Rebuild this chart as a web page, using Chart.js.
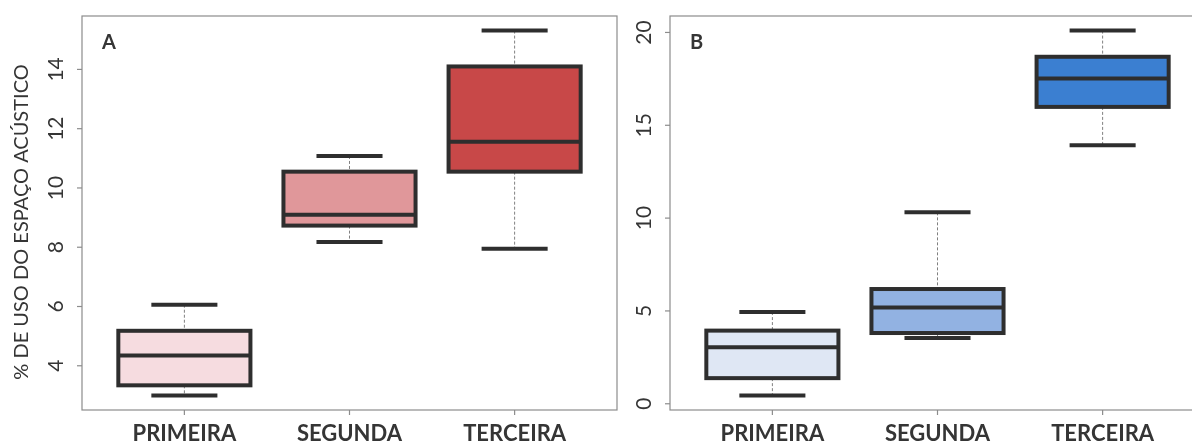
<!DOCTYPE html>
<html>
<head>
<meta charset="utf-8">
<script src="https://cdn.jsdelivr.net/npm/chart.js@4.4.1/dist/chart.umd.min.js"></script>
<style>
  html, body { margin: 0; padding: 0; background: #fff; }
  #pagina { position: relative; width: 1192px; height: 443px; overflow: hidden; background: #fff; }
  .panel { position: absolute; top: 0; height: 443px; }
  .panel canvas { display: block; }
  #wrapA { left: 0; width: 620px; }
  #wrapB { left: 620px; width: 600px; }
</style>
</head>
<body>
<div id="pagina">
  <div class="panel" id="wrapA"><canvas id="chartA" width="620" height="443" style="width:620px;height:443px"></canvas></div>
  <div class="panel" id="wrapB"><canvas id="chartB" width="600" height="443" style="width:600px;height:443px"></canvas></div>
</div>
<script>
// categorias (fases)
const categorias = ['PRIMEIRA', 'SEGUNDA', 'TERCEIRA'];

// Painel A — % de uso do espaço acústico
const minA = [3.0, 8.18, 7.95];
const q1A = [3.34, 8.73, 10.55];
const medA = [4.35, 9.1, 11.56];
const q3A = [5.18, 10.55, 14.1];
const maxA = [6.06, 11.08, 15.31];
const ticksA = [4, 6, 8, 10, 12, 14];
const coresA = ['#f6dce0', '#e0979a', '#c84848'];

// Painel B
const minB = [0.45, 3.54, 13.92];
const q1B = [1.38, 3.81, 15.99];
const medB = [3.04, 5.19, 17.52];
const q3B = [3.94, 6.18, 18.69];
const maxB = [4.94, 10.31, 20.1];
const ticksB = [0, 5, 10, 15, 20];
const coresB = ['#dfe7f4', '#92b2e2', '#3b7fd1'];

const tituloY = '% DE USO DO ESPAÇO ACÚSTICO';
const FONTE = "Lato, 'Open Sans', sans-serif";
const TEXTO = '#353535';

function linha(ctx, x1, y1, x2, y2) {
  ctx.beginPath();
  ctx.moveTo(x1, y1);
  ctx.lineTo(x2, y2);
  ctx.stroke();
}

// caixas, medianas, bigodes (estilo R boxplot)
const boxPlot = {
  id: 'boxPlot',
  afterDatasetsDraw(chart, args, opts) {
    const { ctx } = chart;
    const y = chart.scales.y;
    const meta = chart.getDatasetMeta(0);
    ctx.save();
    meta.data.forEach((bar, i) => {
      const cx = bar.x;
      const hw = bar.width / 2;
      const pMin = y.getPixelForValue(opts.min[i]);
      const pQ1 = y.getPixelForValue(opts.q1[i]);
      const pMed = y.getPixelForValue(opts.med[i]);
      const pQ3 = y.getPixelForValue(opts.q3[i]);
      const pMax = y.getPixelForValue(opts.max[i]);

      // bigodes tracejados
      ctx.strokeStyle = '#808080';
      ctx.lineWidth = 1;
      ctx.setLineDash([3, 2]);
      linha(ctx, cx, pMax, cx, pQ3);
      linha(ctx, cx, pQ1, cx, pMin);
      ctx.setLineDash([]);

      ctx.strokeStyle = '#2e2e2e';
      ctx.lineWidth = 4;
      ctx.lineCap = 'butt';
      // caps
      linha(ctx, cx - hw / 2, pMax, cx + hw / 2, pMax);
      linha(ctx, cx - hw / 2, pMin, cx + hw / 2, pMin);
      // caixa
      ctx.strokeRect(cx - hw, pQ3, hw * 2, pQ1 - pQ3);
      // mediana
      linha(ctx, cx - hw, pMed, cx + hw, pMed);
    });
    ctx.restore();
  }
};

// moldura, eixos e textos
const moldura = {
  id: 'moldura',
  afterDraw(chart, args, opts) {
    const { ctx, chartArea: a } = chart;
    const { x, y } = chart.scales;
    ctx.save();
    ctx.strokeStyle = '#8c8c8c';
    ctx.lineWidth = 1.2;
    ctx.strokeRect(a.left, a.top, a.right - a.left, a.bottom - a.top);

    // eixo y
    ctx.fillStyle = TEXTO;
    ctx.font = '21px ' + FONTE;
    ctx.textAlign = 'center';
    ctx.textBaseline = 'middle';
    opts.yTicks.forEach(v => {
      const py = y.getPixelForValue(v);
      linha(ctx, a.left - 5, py, a.left, py);
      ctx.save();
      ctx.translate(a.left - 26, py);
      ctx.rotate(-Math.PI / 2);
      ctx.fillText(String(v), 0, 0);
      ctx.restore();
    });

    // eixo x
    ctx.font = 'bold 22px ' + FONTE;
    ctx.textBaseline = 'alphabetic';
    categorias.forEach((c, i) => {
      const px = x.getPixelForValue(i + 1);
      linha(ctx, px, a.bottom, px, a.bottom + 5);
      ctx.fillText(c, px, 441);
    });

    // letra do painel
    ctx.font = 'bold 20px ' + FONTE;
    ctx.textAlign = 'left';
    ctx.fillText(opts.letra, a.left + 20, a.top + 33);

    // título do eixo y
    if (opts.titulo) {
      ctx.save();
      ctx.translate(22, (a.top + a.bottom) / 2 + 9);
      ctx.rotate(-Math.PI / 2);
      ctx.font = '20px ' + FONTE;
      ctx.textAlign = 'center';
      ctx.textBaseline = 'middle';
      ctx.fillText(opts.titulo, 0, 0);
      ctx.restore();
    }
    ctx.restore();
  }
};

// faixa do eixo y como no R (4% de folga)
function faixa(mins, maxs) {
  const lo = Math.min(...mins);
  const hi = Math.max(...maxs);
  const pad = (hi - lo) * 0.04;
  return [lo - pad, hi + pad];
}

function criarPainel(id, st, cores, yTicks, letra, titulo, padding) {
  const [yMin, yMax] = faixa(st.min, st.max);
  return new Chart(document.getElementById(id), {
    type: 'bar',
    data: {
      datasets: [{
        data: st.q1.map((v, i) => ({ x: i + 1, y: [v, st.q3[i]] })),
        backgroundColor: cores,
        borderWidth: 0,
        barPercentage: 0.8,
        categoryPercentage: 1
      }]
    },
    options: {
      responsive: false,
      animation: false,
      layout: { padding },
      plugins: {
        legend: { display: false },
        tooltip: { enabled: false },
        boxPlot: st,
        moldura: { yTicks, letra, titulo }
      },
      scales: {
        x: {
          type: 'linear',
          display: false,
          offset: false,
          min: 0.38,
          max: 3.62,
          afterBuildTicks: s => { s.ticks = [1, 2, 3].map(v => ({ value: v })); },
          afterDataLimits: s => { s.min = 0.38; s.max = 3.62; }
        },
        y: {
          type: 'linear',
          display: false,
          min: yMin,
          max: yMax
        }
      }
    },
    plugins: [boxPlot, moldura]
  });
}

criarPainel('chartA',
  { min: minA, q1: q1A, med: medA, q3: q3A, max: maxA },
  coresA, ticksA, 'A', tituloY,
  { left: 82, right: 3, top: 16, bottom: 33 });

criarPainel('chartB',
  { min: minB, q1: q1B, med: medB, q3: q3B, max: maxB },
  coresB, ticksB, 'B', null,
  { left: 50, right: 15, top: 16, bottom: 33 });
</script>
</body>
</html>
